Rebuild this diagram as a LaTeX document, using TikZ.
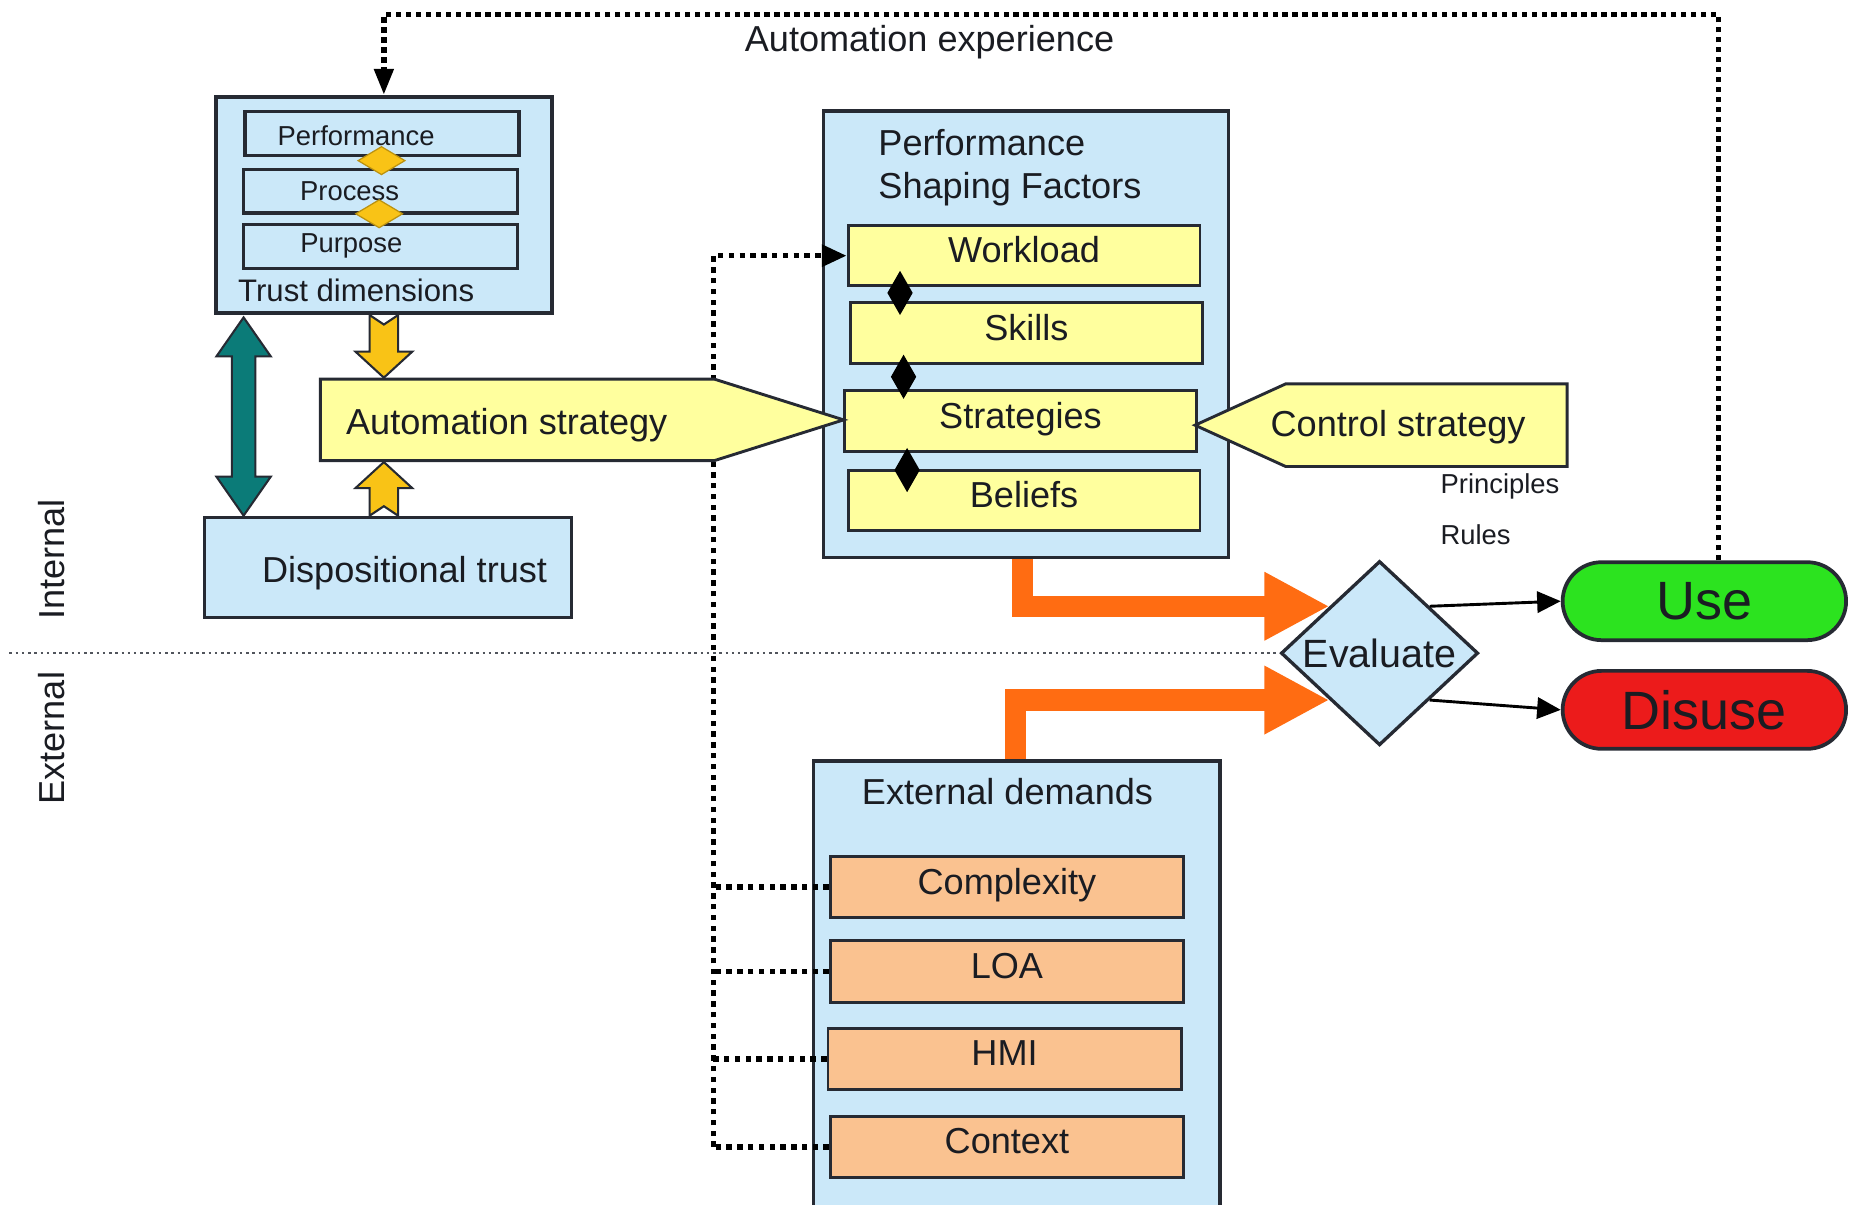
\documentclass[tikz,border=0pt]{standalone}
\usepackage{fontspec}
\setmainfont{Liberation Sans}
\usepackage{tikz}
\usetikzlibrary{shapes.geometric, shapes.symbols, arrows.meta, positioning, calc}
\definecolor{trustblue}{HTML}{CBE8F9}
\definecolor{psfyellow}{HTML}{FFFF9E}
\definecolor{demandpeach}{HTML}{FAC290}
\definecolor{goldfill}{HTML}{F9C316}
\definecolor{tealfill}{HTML}{0B7B78}
\definecolor{flowrange}{HTML}{FF6C12}
\definecolor{usegreen}{HTML}{2CE31F}
\definecolor{disusered}{HTML}{EC1B1B}
\definecolor{outline}{HTML}{262A33}
\definecolor{textdark}{HTML}{1A1C22}

\begin{document}
\begin{tikzpicture}[
    font=\fontsize{8.7}{10.2}\selectfont, text=textdark,
    group_node/.style={rectangle, fill=trustblue, draw=outline, line width=0.8pt, inner sep=0pt},
    dim_node/.style={rectangle, fill=trustblue, draw=outline, line width=0.8pt, minimum width=2.32cm, minimum height=0.37cm, inner sep=0pt},
    dim_text/.style={font=\fontsize{6.6}{8}\selectfont, inner sep=0pt},
    factor_node/.style={rectangle, fill=psfyellow, draw=outline, line width=0.7pt, minimum width=2.98cm, minimum height=0.51cm, inner sep=0pt, text height=0.22cm, text depth=0.10cm},
    demand_node/.style={rectangle, fill=demandpeach, draw=outline, line width=0.7pt, minimum width=2.99cm, minimum height=0.52cm, inner sep=0pt, text height=0.22cm, text depth=0.10cm},
    strategy_node/.style={signal, signal from=nowhere, fill=psfyellow, draw=outline, line width=0.7pt, minimum height=0.69cm, inner sep=0pt},
    strategy_text/.style={inner sep=0pt, text height=0.25cm, text depth=0pt},
    link_mark/.style={diamond, fill=black, minimum width=0.22cm, minimum height=0.38cm, inner sep=0pt},
    dim_mark/.style={diamond, fill=goldfill, draw=goldfill!75!black, line width=0.3pt, minimum width=0.40cm, minimum height=0.24cm, inner sep=0pt},
    outcome_node/.style={rectangle, rounded corners=3.3mm, draw=outline, line width=0.9pt, minimum width=2.4cm, minimum height=0.66cm, font=\fontsize{13}{15}\selectfont},
    block_arrow/.style={draw=outline, line width=0.5pt, line join=miter},
    flow_arrow/.style={line width=1.8mm, draw=flowrange, -{Triangle[length=5.5mm, width=5.4mm]}},
    result_arrow/.style={line width=0.7pt, -{Triangle[length=2mm, width=1.8mm]}},
    bus_line/.style={line width=1.3pt, dash pattern=on 1.3pt off 1.3pt},
    feedback_line/.style={line width=1.3pt, dash pattern=on 1.3pt off 1.1pt},
    sep_line/.style={line width=0.6pt, draw=outline!80, dash pattern=on 0.6pt off 0.9pt},
    note_text/.style={font=\fontsize{6.6}{8}\selectfont, inner sep=0pt, anchor=west}
]
\useasboundingbox (0,0) rectangle (15.68,-10.20);

% Trust dimensions
\node[group_node, minimum width=2.84cm, minimum height=1.83cm, line width=1pt] (trust) at (3.25,-1.735) {};
\node[dim_node, label={[dim_text, xshift=-2.2mm, yshift=-0.2mm]center:Performance}] (perf) at (3.235,-1.13) {};
\node[dim_node, below=0.09cm of perf, xshift=-0.15mm, label={[dim_text, xshift=-2.6mm]center:Process}] (proc) {};
\node[dim_node, below=0.07cm of proc, label={[dim_text, xshift=-2.45mm]center:Purpose}] (purp) {};
\node[dim_mark] (dm1) at (3.23,-1.36) {};
\node[dim_mark] (dm2) at (3.21,-1.81) {};
\node[anchor=west, inner sep=0pt, font=\fontsize{7.5}{9}\selectfont] (trustlabel) at (2.01,-2.46) {Trust dimensions};

\node[group_node, minimum width=3.11cm, minimum height=0.85cm, label={[strategy_text, xshift=1.4mm]center:Dispositional trust}] (disp) at (3.285,-4.805) {};

% Performance shaping factors
\node[group_node, minimum width=3.43cm, minimum height=3.78cm] (psf) at (8.685,-2.83) {};
\node[anchor=north west, align=left, inner sep=0pt] (psftitle) at (7.43,-1.09) {Performance\\Shaping Factors};
\node[factor_node] (workload) at (8.67,-2.165) {Workload};
\node[factor_node] (skills) at (8.69,-2.82) {Skills};
\node[factor_node] (strategies) at (8.64,-3.565) {Strategies};
\node[factor_node] (beliefs) at (8.67,-4.235) {Beliefs};
\node[link_mark] (lnk1) at (7.62,-2.48) {};
\node[link_mark] (lnk2) at (7.65,-3.19) {};
\node[link_mark] (lnk3) at (7.68,-3.98) {};

% External demands
\node[group_node, minimum width=3.44cm, minimum height=3.97cm, anchor=north] (ext) at (8.61,-6.43) {};
\node (exttitle) at (8.53,-6.70) {External demands};
\node[demand_node] (complexity) at (8.525,-7.51) {Complexity};
\node[demand_node] (loa) at (8.525,-8.225) {LOA};
\node[demand_node] (hmi) at (8.505,-8.965) {HMI};
\node[demand_node] (context) at (8.525,-9.71) {Context};

% Dotted bus
\coordinate (busx) at (6.04,-2.12);
\draw[bus_line, -{Triangle[length=2.1mm, width=1.8mm]}] (context.west -| busx) |- (workload.west);
\draw[bus_line] (complexity.west) -- (complexity.west -| busx);
\draw[bus_line] (loa.west) -- (loa.west -| busx);
\draw[bus_line] (hmi.west) -- (hmi.west -| busx);
\draw[bus_line] (context.west) -- (context.west -| busx);

% Strategies
\node[strategy_node, signal to=east, signal pointer angle=35, minimum width=4.43cm, anchor=west,
    label={[strategy_text, xshift=-0.9mm]center:Automation strategy}] (autostr) at (2.70,-3.555) {};
\node[strategy_node, signal to=west, signal pointer angle=49, minimum width=3.15cm, minimum height=0.70cm, anchor=east,
    label={[strategy_text, xshift=-2.4mm, yshift=0.3mm]center:Control strategy}] (ctrlstr) at (13.28,-3.60) {};
\node[note_text] (principles) at (12.19,-4.12) {Principles};
\node[note_text] (rules) at (12.19,-4.53) {Rules};

% Block arrows
\draw[block_arrow, fill=goldfill] ([xshift=-1.2mm]trust.south) -- ++(0.12,-0.08) -- ++(0.12,0.08)
    -- ($(autostr.north -| trust.south)+(0.12,0.22)$) -- ++(0.12,0) -- (autostr.north -| trust.south)
    -- ++(-0.24,0.22) -- ++(0.12,0) -- cycle;
\draw[block_arrow, fill=goldfill] ($(disp.north -| trust.south)+(-0.12,0)$) -- ++(0.12,0.08) -- ++(0.12,-0.08)
    -- ($(autostr.south -| trust.south)+(0.12,-0.22)$) -- ++(0.12,0) -- (autostr.south -| trust.south)
    -- ++(-0.24,-0.22) -- ++(0.12,0) -- cycle;
\coordinate (ta) at ($(trust.south west)+(0.25,-0.02)$);
\coordinate (tb) at (ta |- disp.north);
\draw[block_arrow, fill=tealfill] (ta) -- ++(0.23,-0.33) -- ++(-0.13,0) -- ($(tb)+(0.10,0.33)$) -- ++(0.13,0)
    -- (tb) -- ++(-0.23,0.33) -- ++(0.13,0) -- ($(ta)+(-0.10,-0.33)$) -- ++(-0.13,0) -- cycle;

% Evaluation
\node[diamond, fill=trustblue, draw=outline, line width=0.8pt, minimum width=1.67cm, minimum height=1.56cm, inner sep=0pt, font=\fontsize{9.5}{11}\selectfont] (eval) at (11.68,-5.53) {Evaluate};
\node[outcome_node, fill=usegreen] (use) at (14.43,-5.09) {Use};
\node[outcome_node, fill=disusered] (disuse) at (14.43,-6.01) {Disuse};

\draw[flow_arrow] ([xshift=-0.3mm]psf.south) |- (eval.north west);
\draw[flow_arrow] ([xshift=-0.15mm]ext.north) |- (eval.south west);
\draw[result_arrow] (eval.north east) -- (use.west);
\draw[result_arrow] (eval.south east) -- (disuse.west);

% Internal / external
\coordinate (sepstart) at (0.08,-5.53);
\draw[sep_line] (sepstart) -- (eval.west);
\node[rotate=90] (intlabel) at (0.44,-4.735) {Internal};
\node[rotate=90] (extlabel) at (0.44,-6.25) {External};

% Feedback
\draw[feedback_line, -{Triangle[length=2.2mm, width=1.6mm]}] ([xshift=1.2mm]use.north) -- ++(0,4.62) -| (trust.north);
\node (autoexp) at (7.87,-0.36) {Automation experience};

\end{tikzpicture}
\end{document}
